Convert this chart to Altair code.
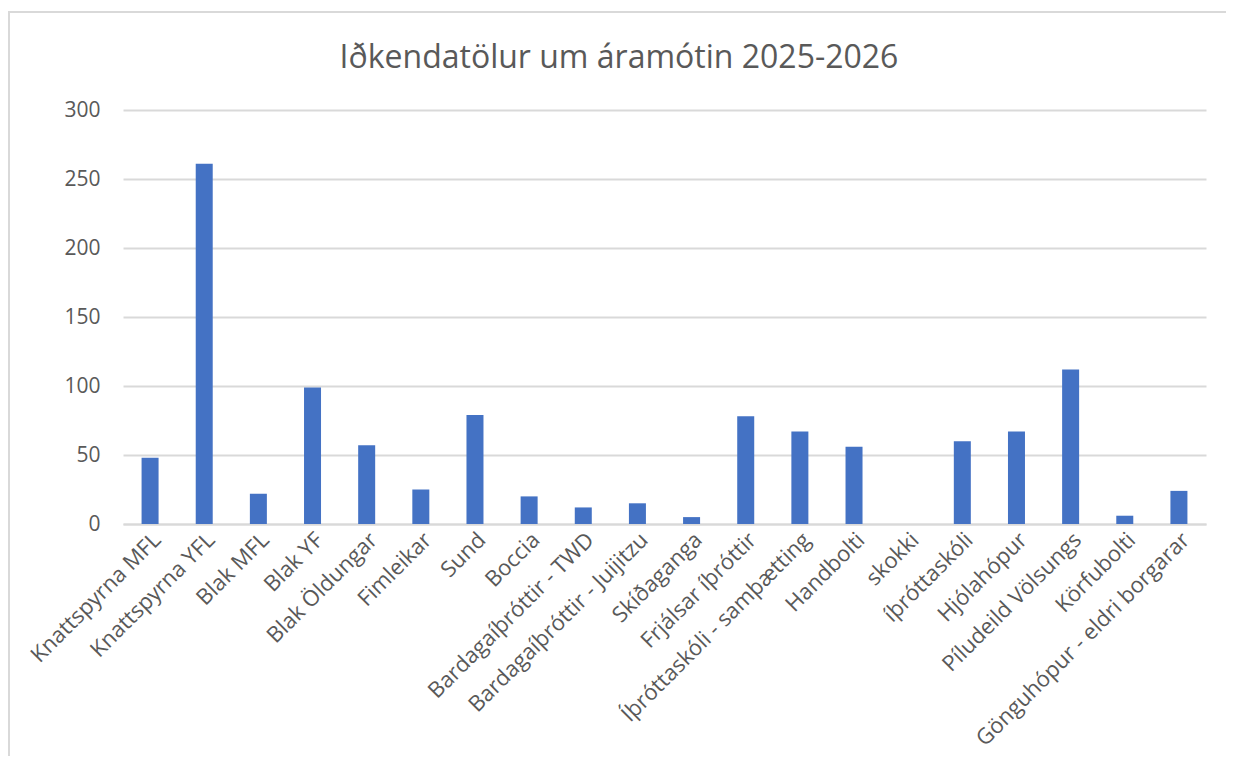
import altair as alt
import pandas as pd

categories = [
    "Knattspyrna MFL", "Knattspyrna YFL", "Blak MFL", "Blak YF", "Blak Öldungar",
    "Fimleikar", "Sund", "Boccia", "Bardagaíþróttir - TWD", "Bardagaíþróttir - Juijitzu",
    "Skíðaganga", "Frjálsar íþróttir", "Íþróttaskóli - samþætting", "Handbolti", "skokki",
    "íþróttaskóli", "Hjólahópur", "Píludeild Völsungs", "Körfubolti", "Gönguhópur - eldri borgarar",
]
values = [48, 261, 22, 99, 57, 25, 79, 20, 12, 15, 5, 78, 67, 56, 0, 60, 67, 112, 6, 24]
y_ticks = [0, 50, 100, 150, 200, 250, 300]
title_text = "Iðkendatölur um áramótin 2025-2026"

df = pd.DataFrame({"cat": categories, "val": values})

FONT = "Open Sans"
GREY = "#595959"

bars = alt.Chart(df).mark_bar(color="#4472C4").encode(
    x=alt.X(
        "cat:N",
        sort=categories,
        scale=alt.Scale(paddingInner=0.686, paddingOuter=0.343),
        axis=alt.Axis(
            title=None, labelAngle=-45, labelAlign="right", labelBaseline="middle",
            labelFontSize=22, labelColor=GREY, labelFont=FONT, labelPadding=12,
            labelOffset=7, ticks=False, domainColor="#d9d9d9", domainWidth=2,
            labelOverlap=False, labelLimit=400,
        ),
    ),
    y=alt.Y(
        "val:Q",
        scale=alt.Scale(domain=[0, 300], nice=False),
        axis=alt.Axis(
            title=None, values=y_ticks, domain=False, ticks=False,
            labelFontSize=21, labelColor=GREY, labelFont=FONT, labelPadding=23,
            gridColor="#d9d9d9", gridWidth=2,
        ),
    ),
)

frame = alt.Chart(df).mark_rect(fill=None, stroke="#d9d9d9", strokeWidth=2, clip=False).encode(
    x=alt.value(-114), x2=alt.value(1300), y=alt.value(-98), y2=alt.value(900)
)

title = alt.Chart(pd.DataFrame({"t": [title_text]})).mark_text(
    font=FONT, fontSize=32, color=GREY, align="center", baseline="alphabetic"
).encode(text="t:N", x=alt.value(496), y=alt.value(-42))

chart = alt.layer(frame, bars, title).properties(
    width=1083,
    height=414,
    padding={"left": 115, "top": 102, "right": 20, "bottom": 232},
    autosize=alt.AutoSizeParams(type="none"),
).configure(background="white", view=alt.ViewConfig(stroke=None, strokeWidth=0))

chart.save("out.html", embed_options={"renderer": "svg", "actions": False})
